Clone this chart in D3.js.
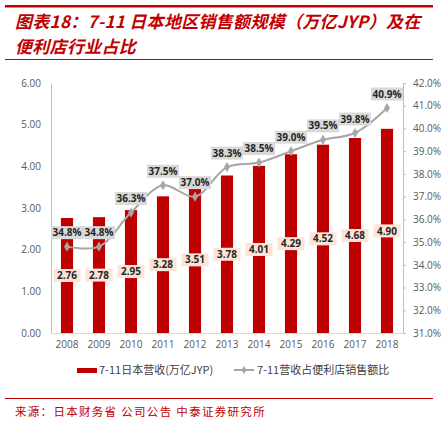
<!DOCTYPE html>
<html>
<head>
<meta charset="utf-8">
<script src="https://cdn.jsdelivr.net/npm/d3@7"></script>
<style>
  body { margin: 0; background: #fff; }
  svg { display: block; }
</style>
</head>
<body>
<svg id="chart" width="443" height="422"></svg>
<script>
const years = ['2008', '2009', '2010', '2011', '2012', '2013', '2014', '2015', '2016', '2017', '2018']
const sales = [2.76, 2.78, 2.95, 3.28, 3.51, 3.78, 4.01, 4.29, 4.52, 4.68, 4.90]
const share = [34.8, 34.8, 36.3, 37.5, 37.0, 38.3, 38.5, 39.0, 39.5, 39.8, 40.9]
const leftTicks = [0, 1, 2, 3, 4, 5, 6]
const rightTicks = [31, 32, 33, 34, 35, 36, 37, 38, 39, 40, 41, 42]
const titleLines = ['图表18：7-11 日本地区销售额规模（万亿JYP）及在', '便利店行业占比']
const legendNames = ['7-11日本营收(万亿JYP)', '7-11营收占便利店销售额比']
const sourceText = '来源：日本财务省 公司公告 中泰证券研究所'

const red = '#C00000'
const grey = '#A6A6A6'
const font = '"Open Sans", "Noto Sans CJK SC", sans-serif'
const cjk = '"Noto Sans CJK SC", sans-serif'

const svg = d3.select('#chart')

// header / footer rules
svg.append('rect').attr('x', 5).attr('y', 5).attr('width', 428).attr('height', 2.5).attr('fill', red)
svg.append('rect').attr('x', 5).attr('y', 59).attr('width', 428).attr('height', 1).attr('fill', red)
svg.append('rect').attr('x', 5).attr('y', 398).attr('width', 428).attr('height', 1).attr('fill', red)

svg.selectAll('.title')
  .data(titleLines)
  .join('text')
  .attr('class', 'title')
  .attr('x', 15)
  .attr('y', (d, i) => 28 + i * 25)
  .attr('fill', red)
  .style('font-family', cjk)
  .style('font-size', '17px')
  .style('font-weight', 'bold')
  .style('font-style', 'italic')
  .style('letter-spacing', '0.3px')
  .text(d => d)

svg.append('text')
  .attr('x', 15)
  .attr('y', 416)
  .attr('fill', red)
  .style('font-family', cjk)
  .style('font-size', '11.5px')
  .style('letter-spacing', '1.3px')
  .text(sourceText)

// scales
const x = d3.scaleBand().domain(years).range([51, 403]).paddingInner(0.62).paddingOuter(0.31)
const yL = d3.scaleLinear().domain([0, 6]).range([333, 83])
const yR = d3.scaleLinear().domain([31, 42]).range([333, 83])

const g = svg.append('g')

// left axis
const leftAxis = g.append('g')
  .attr('transform', 'translate(51,0)')
  .call(d3.axisLeft(yL).tickValues(leftTicks).tickSize(0).tickPadding(10).tickFormat(d3.format('.2f')))
leftAxis.select('.domain').attr('stroke', '#BFBFBF')

// right axis
const rightAxis = g.append('g')
  .attr('transform', 'translate(403,0)')
  .call(d3.axisRight(yR).tickValues(rightTicks).tickSize(3).tickPadding(7).tickFormat(d => d.toFixed(1) + '%'))
rightAxis.select('.domain').attr('stroke', '#BFBFBF')
rightAxis.selectAll('.tick line').attr('stroke', '#BFBFBF')

// bottom axis
const bottomAxis = g.append('g')
  .attr('transform', 'translate(0,333)')
  .call(d3.axisBottom(x).tickSize(0).tickPadding(8))
bottomAxis.select('.domain').attr('stroke', '#D9D9D9')

g.selectAll('.tick text')
  .attr('fill', '#595959')
  .style('font-family', font)
  .style('font-size', '10px')

// bars
g.selectAll('.bar')
  .data(sales)
  .join('rect')
  .attr('class', 'bar')
  .attr('x', (d, i) => x(years[i]))
  .attr('y', d => yL(d))
  .attr('width', x.bandwidth())
  .attr('height', d => yL(0) - yL(d))
  .attr('fill', red)

// bar labels
const barLab = g.selectAll('.barlab')
  .data(sales)
  .join('g')
  .attr('class', 'barlab')
  .attr('transform', (d, i) => `translate(${x(years[i]) + x.bandwidth() / 2},${yL(d / 2)})`)
barLab.append('rect')
  .attr('x', -13.5).attr('y', -6.5).attr('width', 27).attr('height', 13)
  .attr('fill', '#FCE4D6')
barLab.append('text')
  .attr('text-anchor', 'middle')
  .attr('dy', '0.36em')
  .attr('fill', '#262626')
  .style('font-family', font)
  .style('font-size', '10px')
  .style('font-weight', 'bold')
  .text(d => d.toFixed(2))

// share line
const cx = i => x(years[i]) + x.bandwidth() / 2
const line = d3.line()
  .x((d, i) => cx(i))
  .y(d => yR(d))
  .curve(d3.curveCatmullRom.alpha(0.5))
g.append('path')
  .datum(share)
  .attr('d', line)
  .attr('fill', 'none')
  .attr('stroke', grey)
  .attr('stroke-width', 2)

const diamond = d3.symbol().type(d3.symbolDiamond).size(30)
g.selectAll('.marker')
  .data(share)
  .join('path')
  .attr('class', 'marker')
  .attr('d', diamond)
  .attr('transform', (d, i) => `translate(${cx(i)},${yR(d)})`)
  .attr('fill', grey)

const lineLab = g.selectAll('.linelab')
  .data(share)
  .join('g')
  .attr('class', 'linelab')
  .attr('transform', (d, i) => `translate(${cx(i)},${yR(d) - 14})`)
lineLab.append('rect')
  .attr('x', -16).attr('y', -6.5).attr('width', 32).attr('height', 13)
  .attr('fill', '#D9D9D9')
lineLab.append('text')
  .attr('text-anchor', 'middle')
  .attr('dy', '0.36em')
  .attr('fill', '#262626')
  .style('font-family', font)
  .style('font-size', '10px')
  .style('font-weight', 'bold')
  .text(d => d.toFixed(1) + '%')

// legend
const legend = svg.append('g').attr('transform', 'translate(0,370)')
legend.append('rect').attr('x', 77).attr('y', -2).attr('width', 20).attr('height', 5).attr('fill', red)
legend.append('line').attr('x1', 234).attr('x2', 254).attr('y1', 0).attr('y2', 0)
  .attr('stroke', grey).attr('stroke-width', 2)
legend.append('path').attr('d', d3.symbol().type(d3.symbolDiamond).size(20)).attr('transform', 'translate(244,0)').attr('fill', grey)
legend.selectAll('.legtext')
  .data(legendNames)
  .join('text')
  .attr('class', 'legtext')
  .attr('x', (d, i) => (i === 0 ? 99 : 257))
  .attr('dy', '0.36em')
  .attr('fill', '#404040')
  .style('font-family', cjk)
  .style('font-size', '11px')
  .text(d => d)
</script>
</body>
</html>
